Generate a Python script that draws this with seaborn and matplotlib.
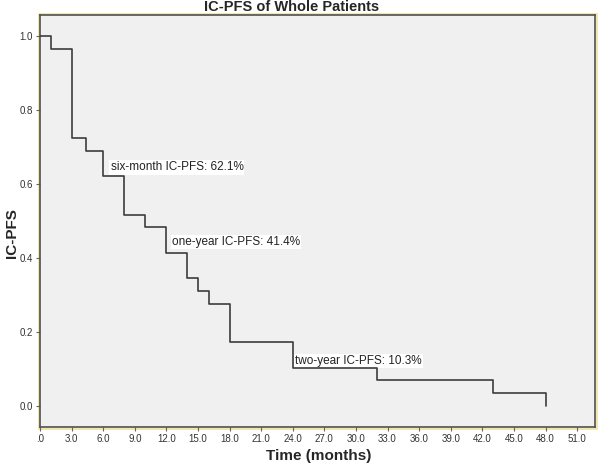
import numpy as np
import pandas as pd
import seaborn as sns
import matplotlib.pyplot as plt
from matplotlib.patches import Rectangle

# Kaplan-Meier steps
times = [0, 1, 3, 4.4, 6, 8, 10, 12, 14, 15, 16, 18, 24, 32, 43, 48]
survival = [1.0, 0.966, 0.724, 0.690, 0.621, 0.517, 0.483, 0.414,
            0.345, 0.310, 0.276, 0.172, 0.103, 0.069, 0.034, 0.0]

x_ticks = [0, 3, 6, 9, 12, 15, 18, 21, 24, 27, 30, 33, 36, 39, 42, 45, 48, 51]
x_tick_labels = [".0"] + [f"{t:.1f}" for t in x_ticks[1:]]
y_ticks = [0.0, 0.2, 0.4, 0.6, 0.8, 1.0]
y_tick_labels = [f"{t:.1f}" for t in y_ticks]

notes = ["six-month IC-PFS: 62.1%", "one-year IC-PFS: 41.4%", "two-year IC-PFS: 10.3%"]
note_x = [6.7, 12.5, 24.25]
note_y = [0.645, 0.443, 0.121]

df = pd.DataFrame({"time": times, "pfs": survival})

sns.set_style("ticks", {"axes.facecolor": "#F0F0F0", "axes.edgecolor": "#505050"})
plt.rcParams["font.family"] = ["Liberation Sans", "DejaVu Sans"]

fig = plt.figure(figsize=(6, 4.7), dpi=100)
ax = fig.add_axes([40 / 600, 1 - 427 / 470, 555 / 600, 412 / 470])

sns.lineplot(data=df, x="time", y="pfs", drawstyle="steps-post",
             color="#3c3c3c", linewidth=1.2, ax=ax, estimator=None, zorder=3)

for txt, tx, ty in zip(notes, note_x, note_y):
    ax.text(tx, ty, txt, fontsize=8.5, color="#222222", va="center", ha="left",
            zorder=2, bbox=dict(facecolor="white", edgecolor="none", pad=0.8))

ax.set_xlim(0, 52.7)
ax.set_ylim(-0.058, 1.058)
ax.set_xticks(x_ticks)
ax.set_xticklabels(x_tick_labels)
ax.set_yticks(y_ticks)
ax.set_yticklabels(y_tick_labels)
ax.tick_params(direction="out", length=3, width=0.8, color="#666666",
               labelsize=7, labelcolor="#333333", pad=2)
for s in ax.spines.values():
    s.set_visible(True)
    s.set_linewidth(1.2)
    s.set_color("#505050")
ax.set_xlabel("")
ax.set_ylabel("")

# thin yellow frame around the plot area
bb = ax.get_position()
fig.patches.append(Rectangle((bb.x0 - 1.5 / 600, bb.y0 - 1.5 / 470),
                             bb.width + 3 / 600, bb.height + 3 / 470,
                             transform=fig.transFigure, fill=False,
                             edgecolor="#EFE39A", linewidth=1.2, zorder=-1))

fig.text(292 / 600, 1 - 7 / 470, "IC-PFS of Whole Patients", fontsize=10.5,
         fontweight="bold", ha="center", va="center")
fig.text(319 / 600, 1 - 456 / 470, "Time (months)", fontsize=11,
         fontweight="bold", ha="center", va="center")
fig.text(12 / 600, 1 - 233 / 470, "IC-PFS", fontsize=11, fontweight="bold",
         ha="center", va="center", rotation=90)

fig.savefig("out.png", dpi=100)
